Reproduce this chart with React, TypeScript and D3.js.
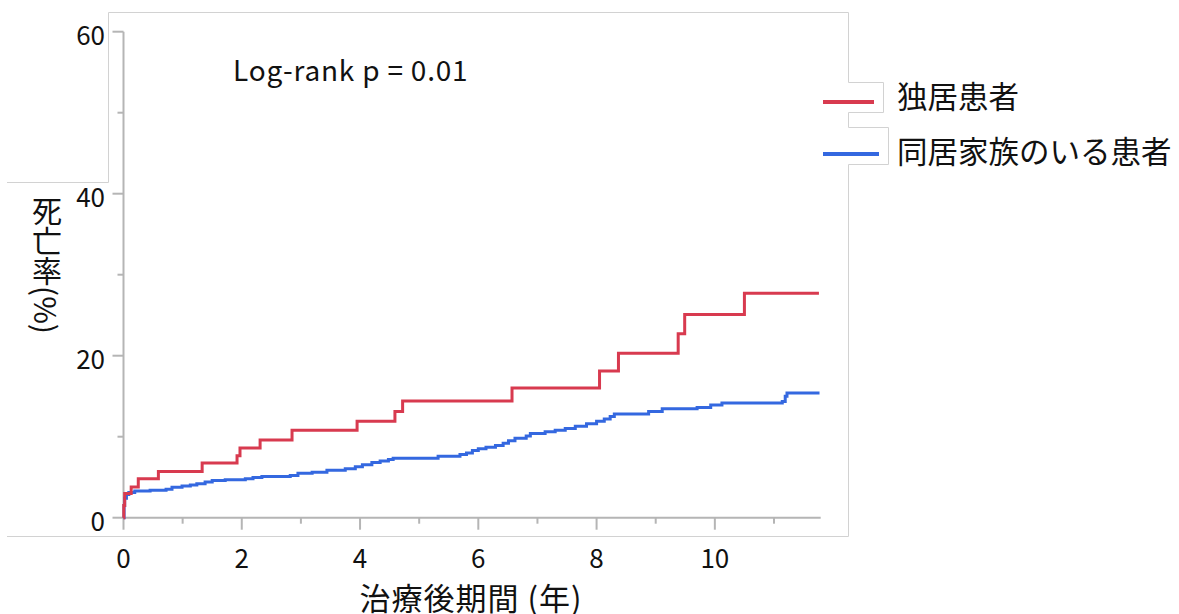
import * as d3 from 'd3';

// step times (years) and cumulative death rate (%)
const aloneTimes = [0, 0.005, 0.02, 0.13, 0.25, 0.59, 1.33, 1.92, 1.97, 2.31, 2.85, 3.95, 4.59, 4.72, 6.57, 8.05, 8.37, 9.38, 9.49, 10.5, 11.76];
const aloneRates = [0, 1.5, 3.0, 3.8, 4.8, 5.7, 6.75, 7.65, 8.6, 9.6, 10.8, 11.9, 13.1, 14.4, 16.0, 18.1, 20.3, 22.7, 25.1, 27.7, 27.7];

const familyTimes = [0, 0.01, 0.02, 0.05, 0.09, 0.19, 0.45, 0.72, 0.82, 0.99, 1.13, 1.24, 1.38, 1.5, 1.72, 2.06, 2.19, 2.34, 2.82, 2.95, 3.19, 3.44, 3.75, 3.92, 4.04, 4.2, 4.34, 4.48, 4.56, 5.32, 5.69, 5.8, 5.9, 6.0, 6.13, 6.29, 6.42, 6.51, 6.62, 6.81, 6.88, 7.13, 7.3, 7.47, 7.64, 7.83, 8.0, 8.13, 8.23, 8.3, 8.88, 9.11, 9.7, 9.93, 10.12, 11.14, 11.19, 11.22, 11.77];
const familyRates = [0, 1.5, 2.4, 2.85, 3.1, 3.3, 3.4, 3.5, 3.75, 3.9, 4.05, 4.2, 4.4, 4.6, 4.7, 4.8, 4.95, 5.1, 5.2, 5.5, 5.6, 5.85, 6.05, 6.3, 6.55, 6.8, 7.0, 7.2, 7.35, 7.6, 7.8, 8.0, 8.3, 8.5, 8.7, 8.9, 9.2, 9.5, 9.8, 10.1, 10.4, 10.6, 10.8, 11.0, 11.3, 11.6, 11.9, 12.2, 12.5, 12.8, 13.1, 13.45, 13.6, 13.9, 14.15, 14.35, 15.0, 15.4, 15.4];

const xMajor = [0, 2, 4, 6, 8, 10];
const xMinor = [1, 3, 5, 7, 9, 11];
const yMajor = [0, 20, 40, 60];
const yMinor = [10, 30, 50];

const seriesNames = ['独居患者', '同居家族のいる患者'];
const seriesColors = ['#d83a4f', '#3468e0'];

const font = '"Noto Sans CJK JP", "Noto Sans", sans-serif';
const axisColor = '#b5b5b5';

export default function App() {
  const x = d3.scaleLinear().domain([0, 11.79]).range([123.5, 820.7]);
  const y = d3.scaleLinear().domain([0, 60]).range([517.7, 31.7]);

  const line = d3.line<[number, number]>()
    .x(d => x(d[0]))
    .y(d => y(d[1]))
    .curve(d3.curveStepAfter);

  const alone = aloneTimes.map((t, i) => [t, aloneRates[i]] as [number, number]);
  const family = familyTimes.map((t, i) => [t, familyRates[i]] as [number, number]);

  const y0 = y(0);
  const x0 = x(0);

  return (
    <div style={{ position: 'absolute', left: 0, top: 0 }}>
      <svg width={1179} height={614} style={{ display: 'block', background: '#fff' }} fontFamily={font}>
        {/* frame of the pasted panel */}
        <path
          d="M7,182.5 H108.5 V12.5 H848.5 V82.5 H883.5 V112.5 H848.5 V127.5 H888.5 V164.5 H848.5 V536.5 H7"
          fill="none" stroke="#d2d2d2" strokeWidth={1}
        />

        {/* axes */}
        <line x1={x0} x2={x0} y1={y(60)} y2={y0} stroke={axisColor} strokeWidth={2} />
        <line x1={x0} x2={x(11.79)} y1={y0} y2={y0} stroke={axisColor} strokeWidth={2} />
        {yMajor.map(v => (
          <g key={'ym' + v}>
            <line x1={x0 - 11} x2={x0} y1={y(v)} y2={y(v)} stroke={axisColor} strokeWidth={2} />
            <text x={105} y={y(v) + 2} textAnchor="end" dominantBaseline="central" fontSize={26} fill="#111">{v}</text>
          </g>
        ))}
        {yMinor.map(v => (
          <line key={'yn' + v} x1={x0 - 6} x2={x0} y1={y(v)} y2={y(v)} stroke={axisColor} strokeWidth={2} />
        ))}
        {xMajor.map(v => (
          <g key={'xm' + v}>
            <line x1={x(v)} x2={x(v)} y1={y0} y2={y0 + 12} stroke={axisColor} strokeWidth={2} />
            <text x={x(v)} y={556} textAnchor="middle" dominantBaseline="central" fontSize={26} fill="#111">{v}</text>
          </g>
        ))}
        {xMinor.map(v => (
          <line key={'xn' + v} x1={x(v)} x2={x(v)} y1={y0} y2={y0 + 6} stroke={axisColor} strokeWidth={2} />
        ))}

        {/* curves */}
        <path d={line(family) ?? ''} fill="none" stroke={seriesColors[1]} strokeWidth={3} />
        <path d={line(alone) ?? ''} fill="none" stroke={seriesColors[0]} strokeWidth={3} />

        <text x={233} y={69} dominantBaseline="central" fontSize={28} letterSpacing={0.8} fill="#111">Log-rank p = 0.01</text>

        {/* axis titles */}
        <text x={47} y={196} fontSize={30} fill="#111" style={{ writingMode: 'vertical-rl' }}>死亡率(%)</text>
        <text x={471} y={596} textAnchor="middle" dominantBaseline="central" fontSize={31} letterSpacing={1} fill="#111">治療後期間 (年)</text>

        {/* legend */}
        {seriesNames.map((name, i) => (
          <g key={name}>
            <line x1={823} x2={i === 0 ? 874 : 879} y1={i === 0 ? 102 : 154} y2={i === 0 ? 102 : 154}
              stroke={seriesColors[i]} strokeWidth={4} />
            <text x={897} y={i === 0 ? 95 : 150} dominantBaseline="central" fontSize={30.5} fill="#111">{name}</text>
          </g>
        ))}
      </svg>
    </div>
  );
}
